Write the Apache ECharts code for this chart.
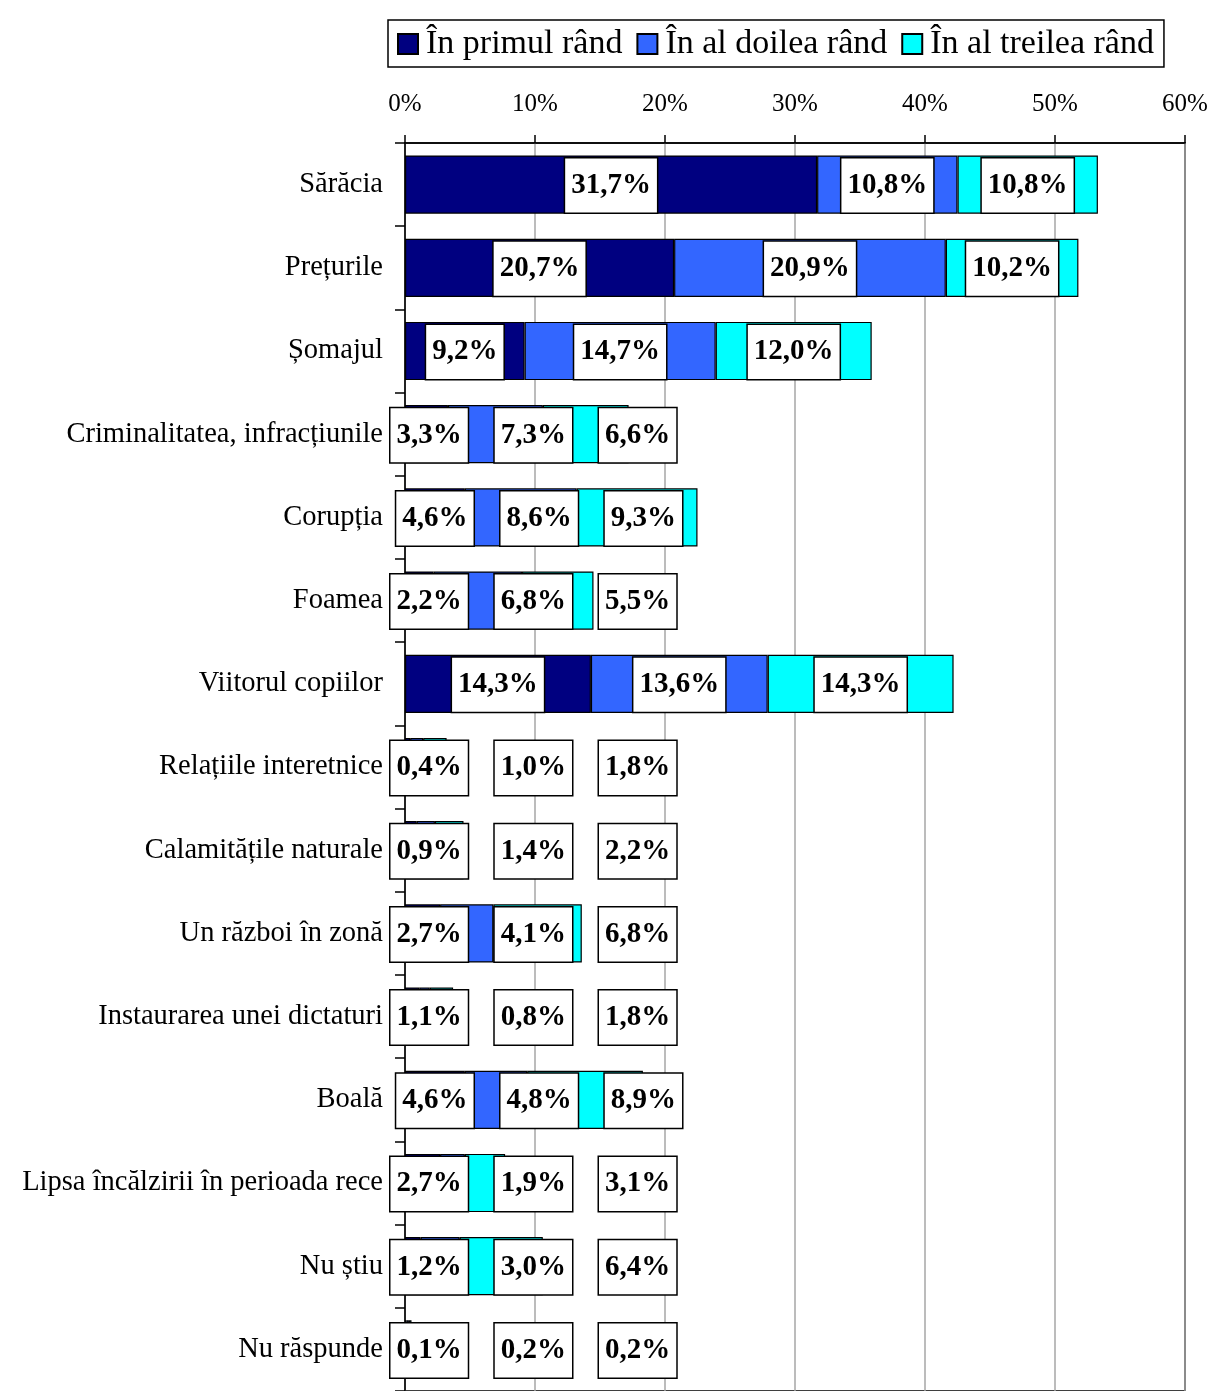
<!DOCTYPE html>
<html>
<head>
<meta charset="utf-8">
<script src="https://cdn.jsdelivr.net/npm/echarts@6/dist/echarts.min.js"></script>
<style>
html,body{margin:0;padding:0;background:#fff;}
#c{width:1211px;height:1391px;}
</style>
</head>
<body>
<div id="c"></div>
<script>
// ---- data ----
const categories = ['Sărăcia', 'Prețurile', 'Șomajul', 'Criminalitatea, infracțiunile', 'Corupția', 'Foamea',
  'Viitorul copiilor', 'Relațiile interetnice', 'Calamitățile naturale', 'Un război în zonă',
  'Instaurarea unei dictaturi', 'Boală', 'Lipsa încălzirii în perioada rece', 'Nu știu', 'Nu răspunde'];
const seriesNames = ['În primul rând', 'În al doilea rând', 'În al treilea rând'];
const firstPlace  = [31.7, 20.7, 9.2, 3.3, 4.6, 2.2, 14.3, 0.4, 0.9, 2.7, 1.1, 4.6, 2.7, 1.2, 0.1];
const secondPlace = [10.8, 20.9, 14.7, 7.3, 8.6, 6.8, 13.6, 1.0, 1.4, 4.1, 0.8, 4.8, 1.9, 3.0, 0.2];
const thirdPlace  = [10.8, 10.2, 12.0, 6.6, 9.3, 5.5, 14.3, 1.8, 2.2, 6.8, 1.8, 8.9, 3.1, 6.4, 0.2];
const xMin = 0, xMax = 60, xStep = 10;

// ---- style ----
const colors = ['#000080', '#3366FF', '#00FFFF'];
const FONT = '"Liberation Serif", "Times New Roman", serif';
const LABEL_FONT_SIZE = 29;
const LABEL_PAD = [12, 6, 8, 6];
const LABEL_BORDER = 1.5;
const LABEL_MIN_LEFT = 16;   // first label may start this far left of axis origin
const LABEL_GAP = 24;        // minimum gap between labels in a row

const allSeries = [firstPlace, secondPlace, thirdPlace];
const fmt = v => v.toFixed(1).replace('.', ',') + '%';

const measureCtx = document.createElement('canvas').getContext('2d');
measureCtx.font = 'bold ' + LABEL_FONT_SIZE + 'px ' + FONT;
function labelWidth(txt) {
  return measureCtx.measureText(txt).width + LABEL_PAD[1] + LABEL_PAD[3] + LABEL_BORDER * 2;
}

const chart = echarts.init(document.getElementById('c'), null, {renderer: 'canvas'});

function layoutRow(p) {
  const i = p.dataIndex;
  const x0 = chart.convertToPixel({xAxisIndex: 0}, 0);
  const k = (chart.convertToPixel({xAxisIndex: 0}, xStep) - x0) / xStep;
  let cum = 0, prevRight = -Infinity;
  const dxs = [];
  for (let s = 0; s < allSeries.length; s++) {
    const v = allSeries[s][i];
    const c = x0 + (cum + v / 2) * k;
    const w = labelWidth(fmt(v));
    let left = c - w / 2;
    if (s === 0) left = Math.max(left, x0 - LABEL_MIN_LEFT);
    else left = Math.max(left, prevRight + LABEL_GAP);
    prevRight = left + w;
    dxs.push(left + w / 2 - c);
    cum += v;
  }
  return {dx: dxs[p.seriesIndex], dy: 1};
}

const series = allSeries.map((arr, s) => ({
  name: seriesNames[s],
  type: 'bar',
  stack: 'total',
  data: arr,
  barCategoryGap: '30%',
  itemStyle: {color: colors[s], borderColor: '#000', borderWidth: 1.2},
  label: {
    show: true,
    position: 'inside',
    formatter: p => fmt(p.value),
    fontFamily: FONT,
    fontSize: LABEL_FONT_SIZE,
    fontWeight: 'bold',
    color: '#000',
    lineHeight: 34,
    backgroundColor: '#fff',
    borderColor: '#000',
    borderWidth: LABEL_BORDER,
    padding: LABEL_PAD
  },
  labelLayout: layoutRow,
  emphasis: {disabled: true}
}));

chart.setOption({
  animation: false,
  backgroundColor: '#fff',
  legend: {
    data: seriesNames,
    left: 388,
    top: 20,
    icon: 'rect',
    itemWidth: 20,
    itemHeight: 20,
    itemGap: 14,
    padding: [7, 10, 6, 9],
    borderColor: '#000',
    borderWidth: 1.5,
    textStyle: {fontFamily: FONT, fontSize: 34, color: '#000', padding: [4, 0, 0, 3]},
    selectedMode: false
  },
  grid: {
    left: 405, right: 26, top: 143, bottom: -8,
    show: true, borderColor: '#000', borderWidth: 1.5,
    containLabel: false
  },
  xAxis: {
    type: 'value',
    position: 'top',
    min: xMin, max: xMax, interval: xStep,
    axisLine: {show: true, lineStyle: {color: '#000', width: 1.5}},
    axisTick: {show: true, length: 8, lineStyle: {color: '#000', width: 1.5}},
    axisLabel: {formatter: '{value}%', fontFamily: FONT, fontSize: 25, color: '#000', margin: 26},
    splitLine: {show: true, lineStyle: {color: '#a6a6a6', width: 1.5}}
  },
  yAxis: {
    type: 'category',
    data: categories,
    inverse: true,
    axisLine: {show: true, lineStyle: {color: '#000', width: 1.5}},
    axisTick: {show: true, length: 10, lineStyle: {color: '#000', width: 1.5}},
    axisLabel: {fontFamily: FONT, fontSize: 28.5, color: '#000', margin: 22, padding: [6, 0, 0, 0]},
    splitLine: {show: false}
  },
  series: series
});
</script>
</body>
</html>
